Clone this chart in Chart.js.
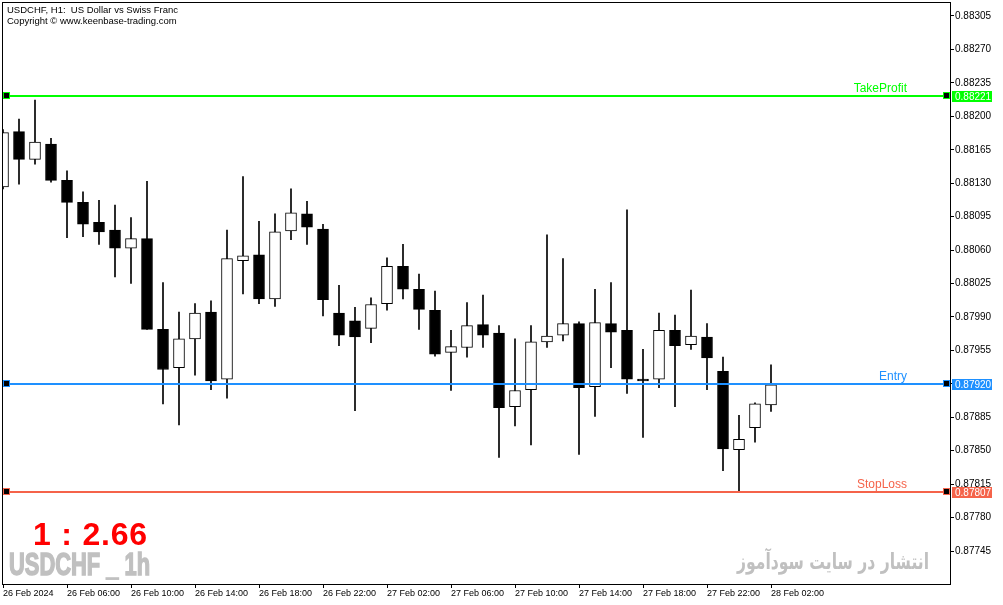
<!DOCTYPE html>
<html>
<head>
<meta charset="utf-8">
<script src="https://cdn.jsdelivr.net/npm/chart.js@4.4.1/dist/chart.umd.min.js"></script>
<style>
body{margin:0;background:#fff;}
#wrap{width:1003px;height:605px;}
</style>
</head>
<body>
<div id="wrap"><canvas id="myChart" width="1003" height="605"></canvas></div>
<script>
// USDCHF H1 candles
const openP = [0.88126, 0.88184, 0.88155, 0.88171, 0.88133, 0.88110, 0.88089, 0.88081, 0.88062, 0.88072,
    0.87977, 0.87937, 0.87967, 0.87995, 0.87925, 0.88049, 0.88055, 0.88009, 0.88080, 0.88098,
    0.88082, 0.87994, 0.87986, 0.87978, 0.88004, 0.88043, 0.88019, 0.87997, 0.87953, 0.87958,
    0.87982, 0.87973, 0.87896, 0.87914, 0.87964, 0.87971, 0.87983, 0.87917, 0.87983, 0.87976,
    0.87925, 0.87925, 0.87976, 0.87961, 0.87969, 0.87933, 0.87851, 0.87874, 0.87898];
const highP = [0.88186, 0.88197, 0.88217, 0.88177, 0.88143, 0.88121, 0.88112, 0.88107, 0.88094, 0.88132,
    0.88026, 0.87995, 0.88004, 0.88007, 0.88081, 0.88137, 0.88090, 0.88098, 0.88124, 0.88111,
    0.88087, 0.88023, 0.88000, 0.88010, 0.88052, 0.88066, 0.88035, 0.88017, 0.87976, 0.88005,
    0.88013, 0.87981, 0.87967, 0.87981, 0.88076, 0.88051, 0.87985, 0.88019, 0.88026, 0.88102,
    0.87956, 0.87994, 0.87992, 0.88018, 0.87983, 0.87948, 0.87887, 0.87900, 0.87940];
const lowP = [0.88124, 0.88129, 0.88150, 0.88131, 0.88073, 0.88074, 0.88066, 0.88032, 0.88025, 0.87977,
    0.87899, 0.87877, 0.87929, 0.87914, 0.87905, 0.88014, 0.88004, 0.88001, 0.88071, 0.88066,
    0.87991, 0.87960, 0.87892, 0.87963, 0.87997, 0.88009, 0.87977, 0.87949, 0.87913, 0.87948,
    0.87958, 0.87843, 0.87876, 0.87856, 0.87958, 0.87965, 0.87846, 0.87886, 0.87937, 0.87910,
    0.87864, 0.87916, 0.87896, 0.87956, 0.87914, 0.87829, 0.87808, 0.87859, 0.87891];
const closeP = [0.88183, 0.88155, 0.88173, 0.88133, 0.88110, 0.88087, 0.88079, 0.88062, 0.88072, 0.87977,
    0.87935, 0.87967, 0.87994, 0.87923, 0.88051, 0.88054, 0.88009, 0.88079, 0.88099, 0.88084,
    0.88008, 0.87971, 0.87969, 0.88003, 0.88043, 0.88019, 0.87998, 0.87951, 0.87959, 0.87981,
    0.87971, 0.87895, 0.87913, 0.87964, 0.87970, 0.87983, 0.87916, 0.87984, 0.87974, 0.87925,
    0.87923, 0.87976, 0.87960, 0.87970, 0.87947, 0.87852, 0.87862, 0.87899, 0.87919];

const xTickIndex = [0, 4, 8, 12, 16, 20, 24, 28, 32, 36, 40, 44, 48];
const xTickLabels = ['26 Feb 2024', '26 Feb 06:00', '26 Feb 10:00', '26 Feb 14:00', '26 Feb 18:00',
    '26 Feb 22:00', '27 Feb 02:00', '27 Feb 06:00', '27 Feb 10:00', '27 Feb 14:00',
    '27 Feb 18:00', '27 Feb 22:00', '28 Feb 02:00'];
const yTicks = [0.88305, 0.88270, 0.88235, 0.88200, 0.88165, 0.88130, 0.88095, 0.88060, 0.88025,
    0.87990, 0.87955, 0.87920, 0.87885, 0.87850, 0.87815, 0.87780, 0.87745];

const levelNames = ['TakeProfit', 'Entry', 'StopLoss'];
const levelValues = [0.88221, 0.87920, 0.87807];

const titleLines = ['USDCHF, H1:  US Dollar vs Swiss Franc', 'Copyright \u00a9 www.keenbase-trading.com'];
const ratioText = '1 : 2.66';
const symbolText = 'USDCHF _ 1h';
const siteText = 'انتشار در سایت سودآموز';

const levelColors = ['#00ff00', '#1e90ff', '#f5634a'];
const smallFont = '"Liberation Sans", Arial, sans-serif';

let bodies = [];
let wicks = [];
let bodyColors = [];
for (let i = 0; i < openP.length; i++) {
    bodies.push({x: i, y: [openP[i], closeP[i]]});
    wicks.push({x: i, y: [lowP[i], highP[i]]});
    bodyColors.push(closeP[i] >= openP[i] ? '#ffffff' : '#000000');
}

function noPadding(s) {
    s.paddingTop = 0;
    s.paddingBottom = 0;
    s.paddingLeft = 0;
    s.paddingRight = 0;
}

const overlay = {
    id: 'overlay',
    afterDatasetsDraw(chart) {
        const ctx = chart.ctx;
        const a = chart.chartArea;
        const y = chart.scales.y;
        ctx.save();
        levelValues.forEach((v, i) => {
            const py = Math.round(y.getPixelForValue(v));
            const c = levelColors[i];
            ctx.fillStyle = c;
            ctx.fillRect(a.left, py - 1, a.right - a.left, 2);
            [a.left, a.right - 7].forEach(sx => {
                ctx.fillStyle = c;
                ctx.fillRect(sx, py - 4, 7, 7);
                ctx.fillStyle = '#000';
                ctx.fillRect(sx + 1, py - 3, 5, 5);
            });
            ctx.fillStyle = c;
            ctx.font = '12px ' + smallFont;
            ctx.textAlign = 'right';
            ctx.textBaseline = 'alphabetic';
            ctx.fillText(levelNames[i], a.right - 43, py - 4);
        });
        ctx.restore();
    },
    afterDraw(chart) {
        const ctx = chart.ctx;
        const a = chart.chartArea;
        const y = chart.scales.y;
        ctx.save();
        // frame
        ctx.strokeStyle = '#000';
        ctx.lineWidth = 1;
        ctx.strokeRect(a.left - 0.5, a.top - 0.5, a.right - a.left + 1, a.bottom - a.top + 1);

        // price boxes on the axis
        levelValues.forEach((v, i) => {
            const py = Math.round(y.getPixelForValue(v));
            ctx.fillStyle = levelColors[i];
            ctx.fillRect(a.right + 2, py - 5, 40, 11);
            ctx.fillStyle = '#fff';
            ctx.font = '10px ' + smallFont;
            ctx.textAlign = 'left';
            ctx.textBaseline = 'middle';
            ctx.fillText(v.toFixed(5), a.right + 5, py + 1);
        });

        // header
        ctx.fillStyle = '#000';
        ctx.font = '9.5px ' + smallFont;
        ctx.textAlign = 'left';
        ctx.textBaseline = 'middle';
        ctx.fillText(titleLines[0], 7, 10);
        ctx.fillText(titleLines[1], 7, 21);

        // risk reward
        ctx.fillStyle = '#ff0000';
        ctx.font = 'bold 32px ' + smallFont;
        ctx.textBaseline = 'alphabetic';
        ctx.letterSpacing = '0.8px';
        ctx.fillText(ratioText, 33, 545);
        ctx.letterSpacing = '0px';

        ctx.fillStyle = '#c0c0c0';
        ctx.strokeStyle = '#c0c0c0';
        ctx.lineWidth = 1.5;
        ctx.font = 'bold 31px ' + smallFont;
        ctx.fillText(symbolText, 9, 575, 141);
        ctx.strokeText(symbolText, 9, 575, 141);

        ctx.font = 'bold 22px "DejaVu Sans", sans-serif';
        ctx.textAlign = 'right';
        ctx.direction = 'rtl';
        ctx.fillText(siteText, 929, 569, 192);
        ctx.restore();
    }
};

window.addEventListener('load', function() {
    const ctx = document.getElementById('myChart');
    new Chart(ctx, {
        type: 'bar',
        data: {
            datasets: [{
                label: 'body',
                data: bodies,
                backgroundColor: bodyColors,
                borderColor: '#000',
                borderWidth: 1,
                borderSkipped: false,
                barThickness: 11,
                grouped: false
            }, {
                label: 'wick',
                data: wicks,
                backgroundColor: '#000',
                borderWidth: 0,
                barThickness: 1,
                grouped: false
            }]
        },
        options: {
            responsive: false,
            animation: false,
            devicePixelRatio: 1,
            layout: {autoPadding: false, padding: {left: 3, top: 3, right: 0, bottom: 0}},
            plugins: {legend: {display: false}, tooltip: {enabled: false}},
            scales: {
                x: {
                    type: 'linear',
                    offset: false,
                    min: 0,
                    max: 947 / 16,
                    afterBuildTicks: s => { s.ticks = xTickIndex.map(v => ({value: v})); },
                    afterFit: s => { s.height = 21; noPadding(s); },
                    grid: {drawOnChartArea: false, drawTicks: true, tickLength: 4, color: '#000', offset: false},
                    border: {color: '#000', width: 1},
                    ticks: {
                        autoSkip: false,
                        maxRotation: 0,
                        align: 'start',
                        padding: 0,
                        color: '#000',
                        font: {family: smallFont, size: 9},
                        callback: v => xTickLabels[xTickIndex.indexOf(v)]
                    }
                },
                y: {
                    position: 'right',
                    min: 0.877105,
                    max: 0.883186,
                    afterBuildTicks: s => { s.ticks = yTicks.map(v => ({value: v})); },
                    afterFit: s => { s.width = 53; noPadding(s); },
                    grid: {drawOnChartArea: false, drawTicks: true, tickLength: 4, color: '#000'},
                    border: {color: '#000', width: 1},
                    ticks: {
                        autoSkip: false,
                        padding: 1,
                        color: '#000',
                        font: {family: smallFont, size: 10},
                        callback: v => v.toFixed(5)
                    }
                }
            }
        },
        plugins: [overlay]
    });
});
</script>
</body>
</html>
